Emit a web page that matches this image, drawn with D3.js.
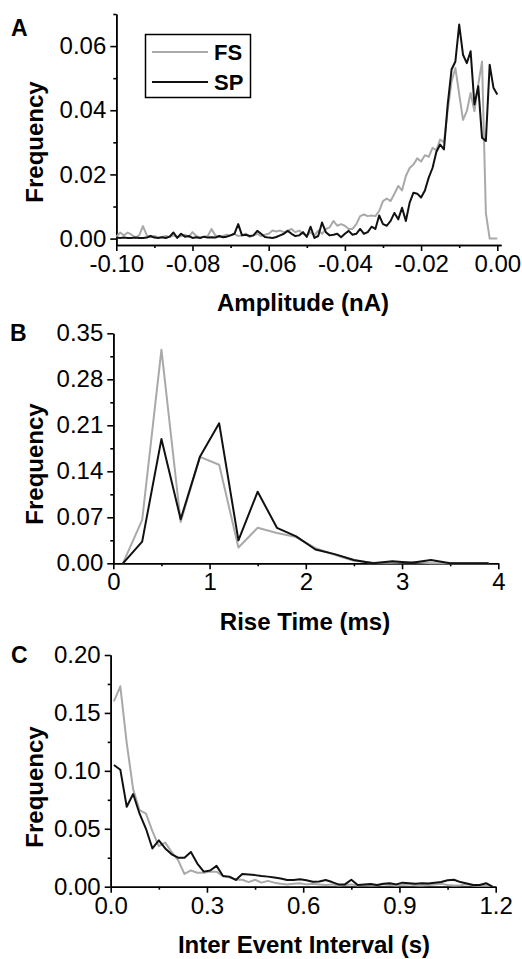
<!DOCTYPE html>
<html>
<head>
<meta charset="utf-8">
<script src="https://cdn.jsdelivr.net/npm/d3@7"></script>
<style>
body{margin:0;background:#fff}
svg text{font-family:"Liberation Sans",Arial,Helvetica,sans-serif;fill:#000}
.tick text{font-size:24px}
.axis path,.axis line{stroke:#000;stroke-width:1.6}
.lbl{font-size:24px;font-weight:bold}
.letter{font-size:23px;font-weight:bold}
</style>
</head>
<body>
<svg id="chart" width="522" height="959"></svg>
<script>
// ---- panel A : amplitude histogram ----
var ampBins = [-0.100,-0.099,-0.098,-0.097,-0.096,-0.095,-0.094,-0.093,-0.092,-0.091,
	-0.090,-0.089,-0.088,-0.087,-0.086,-0.085,-0.084,-0.083,-0.082,-0.081,
	-0.080,-0.079,-0.078,-0.077,-0.076,-0.075,-0.074,-0.073,-0.072,-0.071,
	-0.070,-0.069,-0.068,-0.067,-0.066,-0.065,-0.064,-0.063,-0.062,-0.061,
	-0.060,-0.059,-0.058,-0.057,-0.056,-0.055,-0.054,-0.053,-0.052,-0.051,
	-0.050,-0.049,-0.048,-0.047,-0.046,-0.045,-0.044,-0.043,-0.042,-0.041,
	-0.040,-0.039,-0.038,-0.037,-0.036,-0.035,-0.034,-0.033,-0.032,-0.031,
	-0.030,-0.029,-0.028,-0.027,-0.026,-0.025,-0.024,-0.023,-0.022,-0.021,
	-0.020,-0.019,-0.018,-0.017,-0.016,-0.015,-0.014,-0.013,-0.012,-0.011,
	-0.010,-0.009,-0.008,-0.007,-0.006,-0.005,-0.004,-0.003,-0.002,-0.001,0.000];
var ampFS = [0.0005,0.0019,0.0010,0.0019,0.0012,0.0003,0.0010,0.0039,0.0010,0.0005,
	0.0008,0.0003,0.0005,0.0008,0.0005,0.0010,0.0005,0.0008,0.0012,0.0005,
	0.0020,0.0008,0.0003,0.0005,0.0008,0.0030,0.0010,0.0005,0.0008,0.0012,
	0.0010,0.0015,0.0008,0.0010,0.0015,0.0005,0.0010,0.0015,0.0008,0.0012,
	0.0015,0.0025,0.0022,0.0025,0.0020,0.0025,0.0030,0.0020,0.0025,0.0015,
	0.0010,0.0020,0.0010,0.0025,0.0015,0.0030,0.0035,0.0055,0.0040,0.0045,
	0.0040,0.0030,0.0030,0.0045,0.0070,0.0075,0.0070,0.0072,0.0070,0.0086,
	0.0117,0.0125,0.0117,0.0140,0.0164,0.0150,0.0195,0.0220,0.0231,0.0250,
	0.0240,0.0260,0.0255,0.0283,0.0275,0.0309,0.0300,0.0400,0.0490,0.0532,
	0.0450,0.0370,0.0397,0.0454,0.0397,0.0480,0.0552,0.0080,0.0000,0.0000,0.0000];
var ampSP = [0.0003,0.0002,0.0003,0.0002,0.0002,0.0003,0.0002,0.0002,0.0003,0.0008,
	0.0003,0.0002,0.0004,0.0002,0.0006,0.0019,0.0002,0.0015,0.0006,0.0008,
	0.0002,0.0004,0.0002,0.0006,0.0003,0.0004,0.0003,0.0008,0.0004,0.0006,
	0.0010,0.0015,0.0045,0.0010,0.0012,0.0008,0.0010,0.0024,0.0015,0.0005,
	0.0003,0.0002,0.0005,0.0010,0.0015,0.0024,0.0015,0.0008,0.0010,0.0020,
	0.0005,0.0037,0.0002,0.0008,0.0050,0.0020,0.0010,0.0012,0.0015,0.0004,
	0.0015,0.0024,0.0012,0.0015,0.0030,0.0015,0.0020,0.0037,0.0030,0.0072,
	0.0045,0.0040,0.0055,0.0080,0.0060,0.0096,0.0055,0.0112,0.0143,0.0140,
	0.0128,0.0150,0.0190,0.0220,0.0270,0.0293,0.0278,0.0420,0.0527,0.0552,
	0.0667,0.0573,0.0547,0.0584,0.0418,0.0475,0.0314,0.0304,0.0542,0.0470,0.0449];
var ampTicks = [-0.10,-0.08,-0.06,-0.04,-0.02,0.00];
var ampMinor = [-0.09,-0.07,-0.05,-0.03,-0.01];
var ampFreqTicks = [0.00,0.02,0.04,0.06];
var ampFreqMinor = [0.01,0.03,0.05,0.07];

// ---- panel B : rise time histogram ----
var riseBins = [0.1,0.3,0.5,0.7,0.9,1.1,1.3,1.5,1.7,1.9,2.1,2.3,2.5,2.7,2.9,3.1,3.3,3.5,3.7,3.9];
var riseFS = [0,0.066,0.325,0.063,0.162,0.150,0.024,0.054,0.046,0.040,0.023,0.013,0.004,0.001,0.001,0.002,0,0,0,0];
var riseSP = [0,0.033,0.189,0.067,0.162,0.213,0.035,0.109,0.054,0.041,0.021,0.014,0.005,0,0.003,0.001,0.005,0,0,0];
var riseTicks = [0,1,2,3,4];
var riseMinor = [0.5,1.5,2.5,3.5];
var riseFreqTicks = [0.00,0.07,0.14,0.21,0.28,0.35];
var riseFreqMinor = [0.035,0.105,0.175,0.245,0.315];

// ---- panel C : inter event interval histogram ----
var ieiBins = [0.01,0.03,0.05,0.07,0.09,0.11,0.13,0.15,0.17,0.19,
	0.21,0.23,0.25,0.27,0.29,0.31,0.33,0.35,0.37,0.39,
	0.41,0.43,0.45,0.47,0.49,0.51,0.53,0.55,0.57,0.59,
	0.61,0.63,0.65,0.67,0.69,0.71,0.73,0.75,0.77,0.79,
	0.81,0.83,0.85,0.87,0.89,0.91,0.93,0.95,0.97,0.99,
	1.01,1.03,1.05,1.07,1.09,1.11,1.13,1.15,1.17,1.19];
var ieiFS = [0.160,0.173,0.124,0.084,0.066,0.063,0.048,0.035,0.038,0.030,
	0.023,0.011,0.014,0.012,0.012,0.013,0.013,0.009,0.008,0.006,
	0.006,0.004,0.006,0.0035,0.005,0.0035,0.0026,0.002,0.0026,0.003,
	0.002,0.0025,0.002,0.0015,0.002,0.001,0.0015,0.002,0.001,0.0015,
	0.001,0.0012,0.002,0.0015,0.001,0.0015,0.002,0.0012,0.001,0.0015,
	0.002,0.0025,0.0015,0.001,0.0012,0.002,0.001,0.0008,0.001,0.0005];
var ieiSP = [0.105,0.101,0.069,0.080,0.063,0.050,0.033,0.040,0.033,0.028,
	0.025,0.025,0.030,0.020,0.013,0.014,0.018,0.0092,0.0087,0.0058,
	0.011,0.0105,0.010,0.0092,0.0087,0.008,0.007,0.0058,0.0058,0.0065,
	0.0055,0.0043,0.0045,0.0058,0.004,0.002,0.002,0.006,0.0015,0.002,
	0.0023,0.0015,0.0025,0.003,0.002,0.0035,0.003,0.0025,0.003,0.0028,
	0.0035,0.004,0.0055,0.006,0.004,0.0028,0.0015,0.0015,0.003,0.0];
var ieiTicks = [0.0,0.3,0.6,0.9,1.2];
var ieiMinor = [0.15,0.45,0.75,1.05];
var ieiFreqTicks = [0.00,0.05,0.10,0.15,0.20];
var ieiFreqMinor = [0.025,0.075,0.125,0.175];

var seriesNames = ["FS","SP"];
var seriesColors = ["#a9a9a9","#111111"];

var svg = d3.select("#chart");

function drawPanel(p){
	var x = d3.scaleLinear().domain(p.xDomain).range(p.xRange);
	var y = d3.scaleLinear().domain(p.yDomain).range(p.yRange);
	var g = svg.append("g");
	var xAt = p.yRange[0], yAt = p.xRange[0];

	g.append("g").attr("class","axis").attr("transform","translate(0,"+xAt+")")
		.call(d3.axisBottom(x).tickValues(p.xMinor).tickSize(3).tickSizeOuter(0).tickFormat(""));
	g.append("g").attr("class","axis").attr("transform","translate(0,"+xAt+")")
		.call(d3.axisBottom(x).tickValues(p.xTicks).tickSize(6).tickSizeOuter(0).tickPadding(4).tickFormat(p.xFmt));
	g.append("g").attr("class","axis").attr("transform","translate("+yAt+",0)")
		.call(d3.axisLeft(y).tickValues(p.yMinor).tickSize(3).tickSizeOuter(0).tickFormat(""));
	g.append("g").attr("class","axis").attr("transform","translate("+yAt+",0)")
		.call(d3.axisLeft(y).tickValues(p.yTicks).tickSize(6).tickSizeOuter(0).tickPadding(4).tickFormat(p.yFmt));

	var line = d3.line()
		.x(function(d,i){ return x(p.bins[i]); })
		.y(function(d){ return y(d); });

	_drawSeries(g, p.fs, line, 0);
	_drawSeries(g, p.sp, line, 1);

	g.append("text").attr("class","lbl").attr("text-anchor","middle")
		.attr("x",p.titleX).attr("y",p.titleY).text(p.title);
	g.append("text").attr("class","lbl").attr("text-anchor","middle")
		.attr("transform","translate(43,"+p.freqY+") rotate(-90)").text("Frequency");
	g.append("text").attr("class","letter").attr("x",p.letterX).attr("y",p.letterY).text(p.letter);
}

function _drawSeries(g, values, line, k){
	g.append("path").datum(values)
		.attr("fill","none")
		.attr("stroke",seriesColors[k])
		.attr("stroke-width",2)
		.attr("stroke-linejoin","round")
		.attr("d",line);
}

drawPanel({
	letter:"A", letterX:11, letterY:36,
	bins:ampBins, fs:ampFS, sp:ampSP,
	xDomain:[-0.1,0.001], xRange:[116.3,501.1],
	yDomain:[-0.002,0.07], yRange:[245,14],
	xTicks:ampTicks, xMinor:ampMinor, yTicks:ampFreqTicks, yMinor:ampFreqMinor,
	xFmt:function(d){ return d.toFixed(2); }, yFmt:function(d){ return d.toFixed(2); },
	title:"Amplitude (nA)", titleX:303, titleY:311, freqY:142
});

drawPanel({
	letter:"B", letterX:10, letterY:341,
	bins:riseBins, fs:riseFS, sp:riseSP,
	xDomain:[0,4], xRange:[113.3,498.3],
	yDomain:[0,0.35], yRange:[563.3,333.3],
	xTicks:riseTicks, xMinor:riseMinor, yTicks:riseFreqTicks, yMinor:riseFreqMinor,
	xFmt:function(d){ return d.toFixed(0); }, yFmt:function(d){ return d.toFixed(2); },
	title:"Rise Time (ms)", titleX:305, titleY:630, freqY:464
});

drawPanel({
	letter:"C", letterX:11, letterY:663,
	bins:ieiBins, fs:ieiFS, sp:ieiSP,
	xDomain:[0,1.2], xRange:[110.7,495.7],
	yDomain:[0,0.2], yRange:[886.7,655],
	xTicks:ieiTicks, xMinor:ieiMinor, yTicks:ieiFreqTicks, yMinor:ieiFreqMinor,
	xFmt:function(d){ return d.toFixed(1); }, yFmt:function(d){ return d.toFixed(2); },
	title:"Inter Event Interval (s)", titleX:304, titleY:953, freqY:787
});

// legend (panel A)
var legend = svg.append("g");
legend.append("rect").attr("x",145.5).attr("y",34.5).attr("width",105).attr("height",63)
	.attr("fill","#fff").attr("stroke","#000").attr("stroke-width",1.5);
seriesNames.forEach(function(name,i){
	var ly = 52 + i*30;
	legend.append("line").attr("x1",152).attr("x2",208).attr("y1",ly).attr("y2",ly)
		.attr("stroke",seriesColors[i]).attr("stroke-width",2);
	legend.append("text").attr("x",214).attr("y",ly+8)
		.style("font-size","22px").style("font-weight","bold").text(name);
});
</script>
</body>
</html>
